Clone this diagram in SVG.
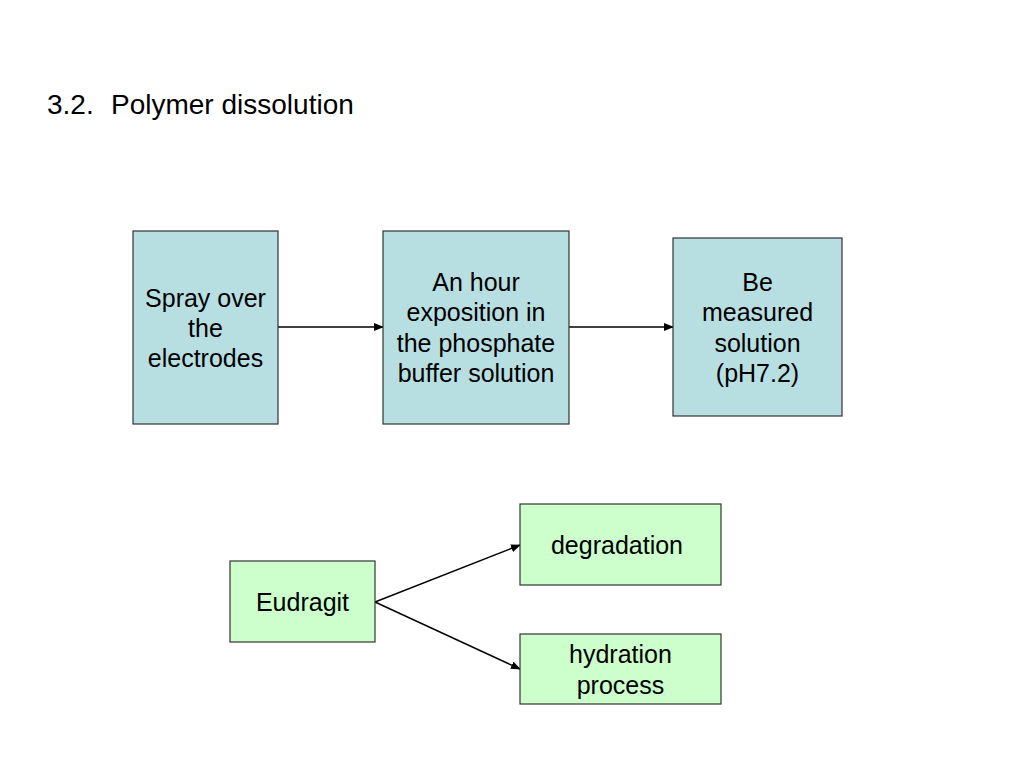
<svg xmlns="http://www.w3.org/2000/svg" width="1024" height="768" viewBox="0 0 1024 768">
<style>
text{font-family:"Liberation Sans",Arial,sans-serif;font-size:25px;fill:#000;text-anchor:middle}
.title{text-anchor:start;font-size:28px}
.blue{fill:#B7DFE2;stroke:#333;stroke-width:1.2}
.green{fill:#CCFFCC;stroke:#333;stroke-width:1.2}
.con{stroke:#000;stroke-width:1.4;fill:none;marker-end:url(#ah)}
</style>
<defs>
<marker id="ah" markerWidth="10" markerHeight="8" refX="9" refY="4" orient="auto" markerUnits="userSpaceOnUse">
<path d="M0,0 L10,4 L0,8 z" fill="#000"/>
</marker>
</defs>
<rect width="1024" height="768" fill="#fff"/>
<text class="title" x="47" y="114">3.2.</text>
<text class="title" x="111" y="114">Polymer dissolution</text>
<g id="connectors">
<line class="con" x1="278" y1="327" x2="383" y2="327"/>
<line class="con" x1="569" y1="327" x2="673" y2="327"/>
<line class="con" x1="375" y1="602" x2="520" y2="545"/>
<line class="con" x1="375" y1="602" x2="520" y2="669"/>
</g>
<g id="spray">
<rect class="blue" x="133" y="231" width="145" height="193"/>
<text x="205.5" y="307">Spray over</text>
<text x="205.5" y="337">the</text>
<text x="205.5" y="367">electrodes</text>
</g>
<g id="hour">
<rect class="blue" x="383" y="231" width="186" height="193"/>
<text x="476" y="291">An hour</text>
<text x="476" y="321">exposition in</text>
<text x="476" y="352">the phosphate</text>
<text x="476" y="382">buffer solution</text>
</g>
<g id="measured">
<rect class="blue" x="673" y="238" width="169" height="178"/>
<text x="757.5" y="291">Be</text>
<text x="757.5" y="321">measured</text>
<text x="757.5" y="352">solution</text>
<text x="757.5" y="382">(pH7.2)</text>
</g>
<g id="eudragit">
<rect class="green" x="230" y="561" width="145" height="81"/>
<text x="302.5" y="611">Eudragit</text>
</g>
<g id="degradation">
<rect class="green" x="520" y="504" width="201" height="81"/>
<text x="617" y="554">degradation</text>
</g>
<g id="hydration">
<rect class="green" x="520" y="634" width="201" height="70"/>
<text x="620.5" y="663">hydration</text>
<text x="620.5" y="694">process</text>
</g>
</svg>
